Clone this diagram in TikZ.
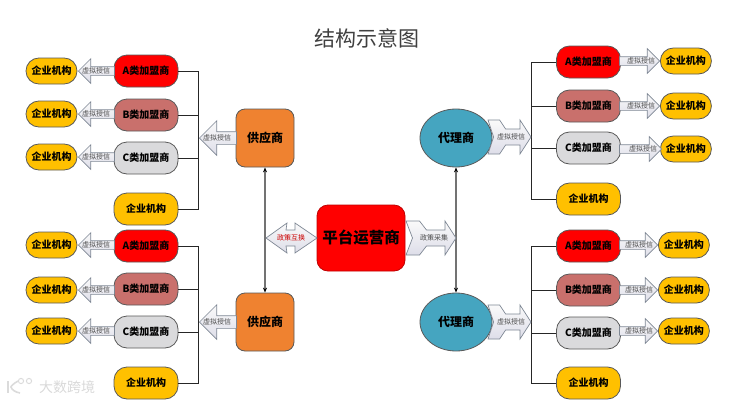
\documentclass[tikz,border=0pt]{standalone}
\usepackage{fontspec}
\setmainfont{Noto Sans CJK SC}
\usetikzlibrary{arrows.meta,shapes.geometric,shapes.arrows}

\definecolor{typea}{HTML}{FF0000}
\definecolor{typeb}{HTML}{C9706C}
\definecolor{typec}{HTML}{DADADC}
\definecolor{coyellow}{HTML}{FFC000}
\definecolor{suporange}{HTML}{EF8230}
\definecolor{agteal}{HTML}{45A5C0}
\definecolor{edgegray}{HTML}{7E8794}

\tikzset{
  basebox/.style={draw=black!65,line width=0.8pt,align=center,font=\bfseries,inner sep=0pt},
  midbox/.style={basebox,minimum width=64pt,minimum height=32pt,rounded corners=13pt,font=\bfseries\fontsize{10}{11}\selectfont},
  smallbox/.style={basebox,fill=coyellow,minimum width=51pt,minimum height=26pt,rounded corners=12.9pt,font=\bfseries\fontsize{10}{11}\selectfont},
  supbox/.style={basebox,fill=suporange,minimum width=58pt,minimum height=58pt,rounded corners=9pt,font=\bfseries\fontsize{12}{13}\selectfont},
  agbox/.style={basebox,ellipse,fill=agteal,minimum width=72pt,minimum height=58pt,font=\bfseries\fontsize{12}{13}\selectfont},
  blockfill/.style={draw=edgegray,line width=0.7pt,top color=gray!4,bottom color=blue!20!gray!22},
  arrowtext/.style={font=\fontsize{7}{8}\selectfont,text=black!70,inner sep=0pt},
  blockarrow/.style={blockfill,single arrow,single arrow head extend=#1,inner xsep=0pt,anchor=tip},
  busline/.style={draw=black!85,line width=0.8pt},
  linkline/.style={{Stealth[length=5pt,width=4pt,color=black]}-{Stealth[length=5pt,width=4pt,color=black]},draw=black!55,line width=1.1pt}
}

\begin{document}
\begin{tikzpicture}[x=1pt,y=-1pt]
\useasboundingbox (0,0) rectangle (737,402);

\node[font=\fontsize{21}{22}\selectfont,text=black!75,inner sep=0pt] (title) at (367,38) {结构示意图};

% left rows
\foreach \n/\y/\z/\t/\s in {a1/71/71/A/typea,b1/115/114/B/typeb,c1/158/157/C/typec,a2/246/245/A/typea,b2/289/290/B/typeb,c2/332/331/C/typec}{
  \node[midbox,fill=\s] (\n) at (146,\y) {\t 类加盟商};
  \node[smallbox] (co\n) at (51.5,\z) {企业机构};
  \node[blockarrow=8pt,inner ysep=4pt,minimum height=36pt,shape border rotate=180] (ar\n) at (78,\z) {};
  \node[arrowtext] (tx\n) at (96,\z) {虚拟授信};
}
% right rows
\foreach \n/\y/\z/\b/\p/\l/\t/\s in {d1/62/61/660/660/40/A/typea,e1/106/106/660/660/40/B/typeb,f1/148/149/660/662/42/C/typec,d2/246/245/658/658/38/A/typea,e2/290/290/658/658/38/B/typeb,f2/333/331/658/658/38/C/typec}{
  \node[midbox,fill=\s] (\n) at (588.5,\y) {\t 类加盟商};
  \node[smallbox,anchor=west] (co\n) at (\b,\z) {企业机构};
  \node[blockarrow=8pt,inner ysep=4pt,minimum height=\l pt] (ar\n) at (\p,\z) {};
  \node[arrowtext] (tx\n) at (\p-19,\z) {虚拟授信};
}
\node[midbox,fill=coyellow] (col1) at (146,209) {企业机构};
\node[midbox,fill=coyellow] (col2) at (146,383) {企业机构};
\node[midbox,fill=coyellow] (cor1) at (588.5,199) {企业机构};
\node[midbox,fill=coyellow] (cor2) at (588.5,383) {企业机构};

\node[supbox] (sup1) at (265,138) {供应商};
\node[supbox] (sup2) at (265,322) {供应商};
\node[agbox] (ag1) at (456,138) {代理商};
\node[agbox] (ag2) at (456,322) {代理商};
\node[basebox,fill=typea,draw=red!75!black,minimum width=88pt,minimum height=66pt,rounded corners=11pt,font=\bfseries\fontsize{15.5}{16}\selectfont] (hub) at (361,238) {平台运营商};

% bus lines
\coordinate (busl1) at (198,138);
\coordinate (busl2) at (198,322);
\coordinate (busr1) at (531,137);
\coordinate (busr2) at (531,322);
\foreach \n in {a1,b1,c1,col1}{\draw[busline] (\n.east) -| (busl1);}
\foreach \n in {a2,b2,c2,col2}{\draw[busline] (\n.east) -| (busl2);}
\foreach \n in {d1,e1,f1,cor1}{\draw[busline] (\n.west) -| (busr1);}
\foreach \n in {d2,e2,f2,cor2}{\draw[busline] (\n.west) -| (busr2);}

\draw[linkline] (sup1) -- (sup2);
\draw[linkline] (ag1) -- (ag2);

% big arrows
\node[blockarrow=11pt,inner ysep=6pt,minimum height=37pt,shape border rotate=180] (arl1) at (199,138) {};
\node[blockarrow=11pt,inner ysep=6pt,minimum height=37pt,shape border rotate=180] (arl2) at (199,322) {};
\node[arrowtext] (txl1) at (217,138) {虚拟授信};
\node[arrowtext] (txl2) at (217,322) {虚拟授信};

\foreach \x/\y/\w in {456/238/50,531/137/43,531/322/43}{
  \draw[blockfill] (\x-\w,\y-17) -- (\x-\w*.73,\y-17) -- (\x-\w*.59,\y-8) -- (\x-11,\y-8) -- (\x-11,\y-17) -- (\x,\y)
    -- (\x-11,\y+17) -- (\x-11,\y+8) -- (\x-\w*.59,\y+8) -- (\x-\w*.73,\y+17) -- (\x-\w,\y+17) -- (\x-\w*.87,\y) -- cycle;
}
\node[arrowtext] (txh) at (434,238) {政策采集};
\node[arrowtext] (txr1) at (511,137) {虚拟授信};
\node[arrowtext] (txr2) at (511,322) {虚拟授信};

\draw[blockfill] (266,238) -- (287,223) -- (286,230) -- (295,230) -- (295,223) -- (317,238)
  -- (295,253) -- (295,246) -- (286,246) -- (287,253) -- cycle;
\node[arrowtext,text=red!80!black] (txs) at (291,238) {政策互换};

% watermark
\draw[black!14,line width=1.6pt] (8,381) -- (8,393);
\draw[black!14,line width=1.6pt] (18,381) .. controls (13,384) and (11,386) .. (11,387) .. controls (12,390) and (15,392) .. (20,393);
\draw[black!14,line width=1pt] (21,381) circle (2.6pt);
\draw[black!14,line width=1pt] (29,381) circle (2.6pt);
\node[text=black!15,font=\fontsize{14}{15}\selectfont,inner sep=0pt] (wm) at (67,387) {大数跨境};
\end{tikzpicture}
\end{document}
